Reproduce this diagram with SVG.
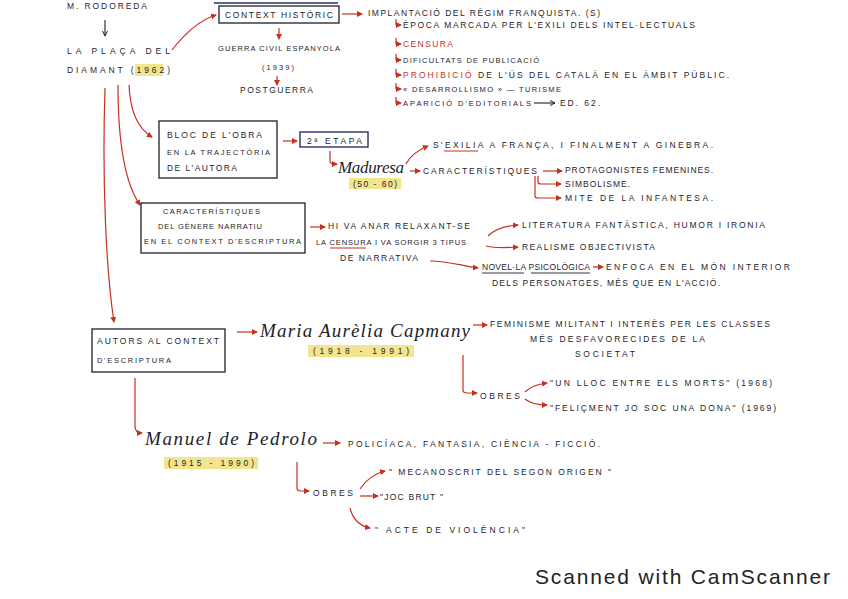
<svg xmlns="http://www.w3.org/2000/svg" width="848" height="599" viewBox="0 0 848 599">
<defs>
<style>
.t{font-family:"Liberation Sans",Arial,sans-serif;font-size:8.5px;fill:#1e1e2c;}
.s{font-size:7.5px;}
.r{fill:#c5311f;}
.c{font-family:"Liberation Serif","Times New Roman",serif;font-style:italic;font-size:19px;fill:#1e1e2c;}
.hl{fill:#f1e07a;opacity:0.85;}
.box{fill:none;stroke:#1e1e2c;stroke-width:1.3;}
.nbox{fill:none;stroke:#2a2f6b;stroke-width:1.4;}
.con{fill:none;stroke:#c5311f;stroke-width:1.2;marker-end:url(#ah);}
.kcon{fill:none;stroke:#1e1e2c;stroke-width:1.1;marker-end:url(#ahk);}
.ul{stroke:#c5311f;stroke-width:1;}
.ulk{stroke:#1e1e2c;stroke-width:0.9;}
.foot{font-family:"Liberation Sans",Arial,sans-serif;font-size:21px;fill:#222;}
</style>
<marker id="ah" markerUnits="userSpaceOnUse" markerWidth="7" markerHeight="7" refX="5" refY="3" orient="auto"><path d="M0,0 L6,3 L0,6 z" fill="#c5311f"/></marker>
<marker id="ahk" markerUnits="userSpaceOnUse" markerWidth="7" markerHeight="7" refX="5" refY="3" orient="auto"><path d="M0,0.5 L5,3 L0,5.5" fill="none" stroke="#1e1e2c" stroke-width="1"/></marker>
</defs>
<rect width="848" height="599" fill="#ffffff"/>

<g id="connectors">
<path class="kcon" d="M105,20 L105,36"/>
<path class="con" d="M172,50 C186,32 200,20 216,15"/>
<path class="con" d="M279,28 L279,39"/>
<path class="con" d="M277,76 L277,85"/>
<path class="con" d="M342,14 L362,14"/>
<path class="con" d="M396,19 L396,25 L401,25"/>
<path class="con" d="M396,38 L396,44 L401,44"/>
<path class="con" d="M396,54 L396,60 L401,60"/>
<path class="con" d="M396,69 L396,75 L401,75"/>
<path class="con" d="M396,83 L396,89 L401,89"/>
<path class="con" d="M396,97 L396,103 L401,103"/>
<path class="kcon" d="M534,103 L555,103"/>
<path class="con" d="M129,85 C130,110 137,128 152,137"/>
<path class="con" d="M118,85 C118,140 124,182 140,205"/>
<path class="con" d="M105,88 C102,180 106,270 114,322"/>
<path class="con" d="M283,141 L297,141"/>
<path class="con" d="M330,151 L330,161 Q330,164 334,164 L337,164"/>
<path class="con" d="M406,164 C410,156 418,150 428,146"/>
<path class="con" d="M410,171 L420,171"/>
<path class="con" d="M543,171 L562,171"/>
<path class="con" d="M538,176 L538,182 Q538,184 541,184 L561,184"/>
<path class="con" d="M535,176 L535,196 Q535,198 538,198 L561,198"/>
<path class="con" d="M310,227 L325,227"/>
<path class="con" d="M488,236 C495,229 505,226 518,225"/>
<path class="con" d="M486,246 C495,248 505,248 518,247"/>
<path class="con" d="M430,261 C448,261 462,266 478,268"/>
<path class="con" d="M593,267 L603,267"/>
<path class="con" d="M237,332 L257,332"/>
<path class="con" d="M135,378 L135,426 Q135,433 142,433"/>
<path class="con" d="M473,325 L487,325"/>
<path class="con" d="M463,355 L463,390 Q463,393 467,393 L477,393"/>
<path class="con" d="M525,392 C531,386 538,384 547,383"/>
<path class="con" d="M525,399 C531,404 538,405 547,405"/>
<path class="con" d="M323,443 L340,443"/>
<path class="con" d="M297,462 L297,488 Q297,491 301,491 L309,491"/>
<path class="con" d="M360,489 C366,480 373,474 385,471"/>
<path class="con" d="M360,496 L378,496"/>
<path class="con" d="M350,508 C353,520 360,526 370,528"/>
</g>

<g id="rodoreda"><text class="t" x="67" y="9" textLength="80">M. RODOREDA</text></g>

<g id="placa">
<rect class="hl" x="135" y="64" width="28" height="12"/>
<text class="t" x="67" y="54" textLength="103">LA   PLAÇA   DEL</text>
<text class="t" x="67" y="73" textLength="103">DIAMANT (1962)</text>
</g>

<g id="context">
<path class="nbox" d="M214,3 L338,3"/>
<rect class="box" x="219" y="6" width="120" height="17"/>
<text class="t" x="225" y="18" textLength="108">CONTEXT HISTÒRIC</text>
</g>

<g id="guerra">
<text class="t s" x="218" y="51" textLength="122">GUERRA CIVIL ESPANYOLA</text>
<text class="t s" x="262" y="70" textLength="32">(1939)</text>
<text class="t" x="240" y="93" textLength="73">POSTGUERRA</text>
</g>

<g id="implantacio">
<text class="t" x="368" y="16" textLength="232">IMPLANTACIÓ DEL RÈGIM FRANQUISTA. (S)</text>
<text class="t" x="403" y="28" textLength="292">ÈPOCA MARCADA PER L'EXILI DELS INTEL·LECTUALS</text>
<text class="t r" x="403" y="47" textLength="50">CENSURA</text>
<text class="t s" x="403" y="63" textLength="136">DIFICULTATS DE PUBLICACIÓ</text>
<text class="t" x="403" y="78" textLength="326"><tspan class="r">PROHIBICIÓ</tspan> DE L'ÚS  DEL CATALÀ EN EL ÀMBIT PÚBLIC.</text>
<text class="t s" x="403" y="92" textLength="158">« DESARROLLISMO » — TURISME</text>
<text class="t s" x="403" y="106" textLength="128">APARICIÓ D'EDITORIALS</text>
<text class="t" x="560" y="106" textLength="40">ED. 62.</text>
</g>

<g id="bloc">
<rect class="box" x="159" y="121" width="118" height="57"/>
<text class="t" x="167" y="138" textLength="95">BLOC DE L'OBRA</text>
<text class="t s" x="167" y="155" textLength="103">EN LA TRAJECTÒRIA</text>
<text class="t" x="167" y="171" textLength="70">DE L'AUTORA</text>
</g>

<g id="etapa">
<rect class="nbox" x="300" y="132" width="68" height="15"/>
<text class="t" x="307" y="144" textLength="55">2ª ETAPA</text>
</g>

<g id="maduresa">
<rect class="hl" x="349" y="178" width="52" height="11"/>
<text class="c" x="338" y="173" textLength="66" style="font-size:17px">Maduresa</text>
<text class="t" x="353" y="187" textLength="44">(50 - 60)</text>
</g>

<g id="exilia">
<text class="t" x="433" y="148" textLength="280">S'EXILIA A FRANÇA, I FINALMENT A GINEBRA.</text>
<line class="ul" x1="444" y1="151" x2="478" y2="151"/>
</g>

<g id="caract-obra"><text class="t" x="423" y="174" textLength="114">CARACTERÍSTIQUES</text></g>

<g id="protagonistes"><text class="t" x="565" y="173" textLength="148">PROTAGONISTES FEMENINES.</text></g>
<g id="simbolisme"><text class="t" x="565" y="187" textLength="65">SIMBOLISME.</text></g>
<g id="mite"><text class="t" x="565" y="201" textLength="148">MITE DE LA INFANTESA.</text></g>

<g id="caract-genere">
<rect class="box" x="141" y="203" width="164" height="50"/>
<text class="t s" x="163" y="214" textLength="97">CARACTERÍSTIQUES</text>
<text class="t s" x="158" y="229" textLength="104">DEL GÈNERE NARRATIU</text>
<text class="t s" x="144" y="244" textLength="157">EN EL CONTEXT D'ESCRIPTURA</text>
</g>

<g id="relaxant">
<text class="t" x="328" y="229" textLength="142">HI VA ANAR RELAXANT-SE</text>
<text class="t s" x="316" y="245" textLength="150">LA CENSURA I VA SORGIR 3 TIPUS</text>
<text class="t" x="340" y="261" textLength="78">DE NARRATIVA</text>
<line class="ul" x1="330" y1="248" x2="366" y2="248"/>
</g>

<g id="literatura"><text class="t" x="522" y="228" textLength="243">LITERATURA FANTÀSTICA, HUMOR I IRONIA</text></g>
<g id="realisme"><text class="t" x="522" y="250" textLength="133">REALISME OBJECTIVISTA</text></g>
<g id="novella">
<text class="t" x="482" y="270" textLength="108">NOVEL·LA PSICOLÒGICA</text>
<line class="ulk" x1="482" y1="273" x2="524" y2="273"/>
<line class="ulk" x1="531" y1="273" x2="590" y2="273"/>
<text class="t" x="606" y="270" textLength="184">ENFOCA EN EL MÓN INTERIOR</text>
<text class="t" x="492" y="286" textLength="228">DELS PERSONATGES, MÉS QUE EN L'ACCIÓ.</text>
</g>

<g id="autors">
<rect class="box" x="92" y="329" width="133" height="43"/>
<text class="t" x="97" y="344" textLength="122">AUTORS AL CONTEXT</text>
<text class="t s" x="97" y="363" textLength="74">D'ESCRIPTURA</text>
</g>

<g id="capmany">
<rect class="hl" x="308" y="345" width="106" height="12"/>
<text class="c" x="260" y="337" textLength="210">Maria Aurèlia Capmany</text>
<text class="t" x="313" y="354" textLength="96">(1918 - 1991)</text>
</g>

<g id="feminisme">
<text class="t" x="490" y="327" textLength="280">FEMINISME MILITANT I INTERÈS PER LES CLASSES</text>
<text class="t" x="530" y="342" textLength="175">MÉS DESFAVORECIDES DE LA</text>
<text class="t" x="575" y="357" textLength="60">SOCIETAT</text>
</g>

<g id="obres-capmany"><text class="t" x="480" y="399" textLength="40">OBRES</text></g>
<g id="lloc"><text class="t" x="550" y="386" textLength="222">"UN LLOC ENTRE ELS MORTS" (1968)</text></g>
<g id="felicment"><text class="t" x="550" y="411" textLength="226">"FELIÇMENT JO SOC UNA DONA" (1969)</text></g>

<g id="pedrolo">
<rect class="hl" x="164" y="457" width="94" height="12"/>
<text class="c" x="145" y="445" textLength="172">Manuel de Pedrolo</text>
<text class="t" x="168" y="466" textLength="86">(1915 - 1990)</text>
</g>

<g id="policiaca"><text class="t" x="348" y="447" textLength="252">POLICÍACA, FANTASIA, CIÈNCIA - FICCIÓ.</text></g>

<g id="obres-pedrolo"><text class="t" x="313" y="496" textLength="40">OBRES</text></g>
<g id="mecanoscrit"><text class="t" x="389" y="475" textLength="222">" MECANOSCRIT DEL SEGON ORIGEN "</text></g>
<g id="joc"><text class="t" x="380" y="500" textLength="63">"JOC BRUT "</text></g>
<g id="acte"><text class="t" x="375" y="533" textLength="150">" ACTE DE VIOLÈNCIA"</text></g>

<text class="foot" x="535" y="584" textLength="295">Scanned with CamScanner</text>
</svg>
